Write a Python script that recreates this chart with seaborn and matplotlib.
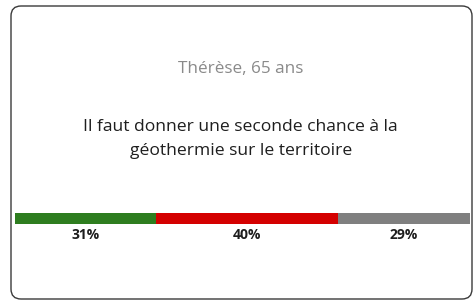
import matplotlib.pyplot as plt
from matplotlib.patches import FancyBboxPatch
from matplotlib.transforms import IdentityTransform
import numpy as np
import pandas as pd
import seaborn as sns

# Données du sondage
answers = ['Oui', 'Non', 'Sans avis']
shares = [31, 40, 29]
colors = ['#2e7d1f', '#d40000', '#7f7f7f']
labels = ['31%', '40%', '29%']

sns.set_style('white')
plt.rcParams['font.family'] = ['Open Sans', 'DejaVu Sans']

fig = plt.figure(figsize=(4.74, 3.02), dpi=100)
fig.patch.set_facecolor('white')

# Cadre arrondi de la carte (en pixels)
card = FancyBboxPatch((11, 3), 461, 293,
                      boxstyle='round,pad=0,rounding_size=10',
                      transform=IdentityTransform(), facecolor='white',
                      edgecolor='#3a3a3a', linewidth=1.0, zorder=-5)
fig.patches.append(card)

fig.text(0.508, 1 - 69 / 302, 'Thérèse, 65 ans', ha='center', va='center',
         fontsize=12.3, color='#8a8a8a')
fig.text(0.508, 1 - 139 / 302, 'Il faut donner une seconde chance à la\ngéothermie sur le territoire',
         ha='center', va='center', fontsize=12.6, color='#1e1e1e', linespacing=1.7)

# Barre empilée : on superpose les cumuls, du plus grand au plus petit
ax = fig.add_axes([15 / 474, 1 - 224 / 302, 455 / 474, 11 / 302])
cum = np.cumsum(shares)
for i in reversed(range(len(answers))):
    sns.barplot(x=[cum[i]], y=[0], orient='h', color=colors[i], width=1,
                saturation=1, ax=ax, edgecolor='none')

ax.set_xlim(0, 100)
ax.set_ylim(0.5, -0.5)
ax.axis('off')

starts = cum - np.array(shares)
for s, v, lab in zip(starts, shares, labels):
    x = (15 + (s + v / 2) / 100 * 455) / 474
    fig.text(x, 1 - 235 / 302, lab, ha='center', va='center',
             fontsize=10, fontweight='bold', color='#1e1e1e')

fig.savefig('out.png', dpi=100)
